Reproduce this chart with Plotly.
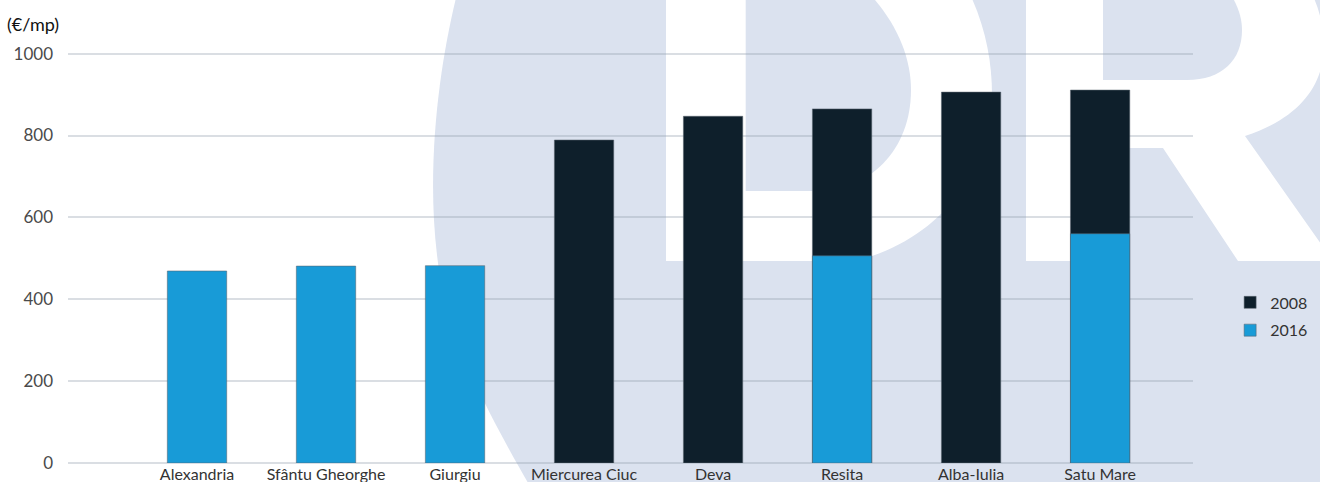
import plotly.graph_objects as go

# Price per square metre (EUR) by city, 2008 vs 2016
cities = ["Alexandria", "Sfântu Gheorghe", "Giurgiu", "Miercurea Ciuc",
          "Deva", "Resita", "Alba-Iulia", "Satu Mare"]
values_2008 = [None, None, None, 789, 847, 865, 906, 911]
values_2016 = [469, 481, 482, None, None, 506, None, 560]
y_ticks = [0, 200, 400, 600, 800, 1000]

W, H = 1320, 482
ML, MR, MT, MB = 68, 127, 52, 19
PW, PH = W - ML - MR, H - MT - MB

C_2008 = "#0e1f2b"
C_2016 = "#189bd7"
WM_BLUE = "#dbe2ef"
FONT = "Lato, 'Open Sans', sans-serif"


def to_paper(px, py):
    return (px - ML) / PW, (H - MB - py) / PH


def make_path(segments):
    """Build an SVG path in paper units from pixel-space segments."""
    out = []
    for cmd, pts in segments:
        coords = " ".join("%.5f,%.5f" % to_paper(x, y) for x, y in pts)
        out.append(cmd + coords)
    return " ".join(out) + " Z"


# Background "DR" watermark
watermark = [
    (WM_BLUE, [("M", [(458, -10)]),
               ("C", [(440, 60), (424, 170), (439, 270)]),
               ("C", [(451, 340), (480, 400), (535, 495)]),
               ("L", [(1330, 495)]), ("L", [(1330, -10)])]),
    ("#ffffff", [("M", [(666, -10)]), ("L", [(968, -10)]),
                 ("C", [(985, 25), (992, 60), (992, 95)]),
                 ("C", [(992, 170), (940, 240), (855, 261)]),
                 ("L", [(666, 261)])]),
    (WM_BLUE, [("M", [(745.7, -10)]), ("L", [(866, -10)]),
               ("C", [(895, 20), (911, 55), (911, 90)]),
               ("C", [(911, 150), (870, 191), (815, 191)]),
               ("L", [(745.7, 191)])]),
    ("#ffffff", [("M", [(1026, -10)]), ("L", [(1310, -10)]),
                 ("C", [(1318, 5), (1324, 25), (1324, 45)]),
                 ("C", [(1324, 85), (1300, 118), (1245, 136)]),
                 ("L", [(1333, 261)]), ("L", [(1238, 261)]),
                 ("L", [(1163, 148)]), ("L", [(1103, 148)]),
                 ("L", [(1103, 261)]), ("L", [(1026, 261)])]),
    (WM_BLUE, [("M", [(1103, -10)]), ("L", [(1228, -10)]),
               ("C", [(1238, 5), (1242, 18), (1242, 30)]),
               ("C", [(1242, 60), (1222, 80), (1187, 80)]),
               ("L", [(1103, 80)])]),
]

shapes = [dict(type="path", xref="paper", yref="paper", layer="below",
               path=make_path(seg), fillcolor=col, line=dict(width=0))
          for col, seg in watermark]

bar_line = dict(color="rgba(90,100,112,0.55)", width=1)

fig = go.Figure()
fig.add_trace(go.Bar(x=cities, y=values_2008, name="2008",
                     marker=dict(color=C_2008, line=bar_line),
                     width=0.46, legendgroup="a"))
fig.add_trace(go.Bar(x=cities, y=values_2016, name="2016",
                     marker=dict(color=C_2016, line=bar_line),
                     width=0.46, legendgroup="b"))

grid_col = "rgba(150,160,175,0.35)"

fig.update_layout(
    width=W, height=H,
    margin=dict(l=ML, r=MR, t=MT, b=MB, autoexpand=False),
    barmode="overlay",
    paper_bgcolor="white", plot_bgcolor="rgba(0,0,0,0)",
    font=dict(family=FONT, color="#333333"),
    shapes=shapes,
    showlegend=True,
    legend=dict(x=1.033, y=0.432, xanchor="left", yanchor="top",
                bgcolor="rgba(0,0,0,0)", tracegroupgap=4,
                font=dict(size=16, color="#333333", family=FONT),
                traceorder="grouped"),
    title=dict(text="(€/mp)", x=7 / W, y=1 - 25 / H, xref="container",
               yref="container", xanchor="left", yanchor="middle",
               font=dict(size=18, color="#111111", family=FONT)),
    xaxis=dict(range=[-1.0, 7.72], showgrid=False, zeroline=False,
               showline=False, ticks="", automargin=False,
               tickfont=dict(size=16, color="#333333", family=FONT)),
    yaxis=dict(range=[0, 1004], tickvals=y_ticks, showgrid=True,
               gridcolor=grid_col, gridwidth=2, zeroline=True,
               zerolinecolor=grid_col, zerolinewidth=2, showline=False,
               ticks="", automargin=False, ticklabelstandoff=14,
               tickfont=dict(size=17, color="#4a4a4a", family=FONT)),
)

fig.write_html("out.html")
